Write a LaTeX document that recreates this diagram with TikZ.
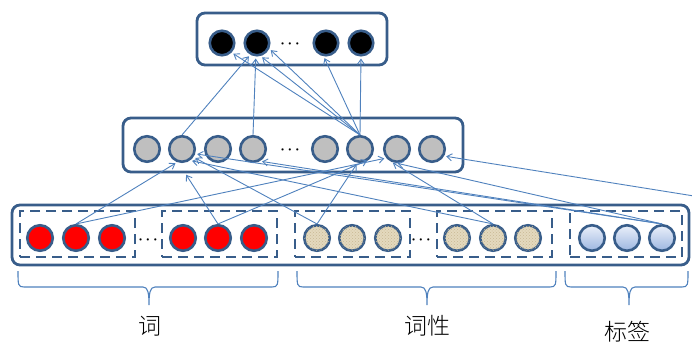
\documentclass[tikz,border=0pt]{standalone}
\usepackage{fontspec}
\newfontfamily\cjk{Noto Sans CJK SC Light}
\usetikzlibrary{arrows.meta,calc,patterns}
\definecolor{bd}{HTML}{385D8A}
\definecolor{ar}{HTML}{4F81BD}
\definecolor{gr}{HTML}{BFBFBF}
\definecolor{tanc}{HTML}{E4D9BE}
\definecolor{tanp}{HTML}{C9B994}
\definecolor{blt}{HTML}{EAF0FA}
\definecolor{blb}{HTML}{9DB6E0}
\newcommand{\mybrace}[3]{%
  \draw[brc] (#1,271) .. controls (#1,285) and (#1,287) .. ({#1+6},287)
    -- ({#2-6},287) .. controls ({#2-1},287) and (#2,293) .. (#2,305)
    .. controls (#2,293) and ({#2+1},287) .. ({#2+6},287)
    -- ({#3-6},287) .. controls (#3,287) and (#3,285) .. (#3,271);}
\begin{document}
\begin{tikzpicture}[x=1pt,y=-1pt,
  box/.style={draw=bd,line width=2.8pt,rounded corners=8pt},
  grp/.style={draw=bd,line width=2.8pt,dash pattern=on 10pt off 6pt},
  unit/.style={circle,draw=bd,line width=2.6pt,minimum size=25.5pt,inner sep=0pt},
  ounit/.style={unit,minimum size=24.5pt,fill=black},
  hunit/.style={unit,fill=gr},
  wunit/.style={unit,fill=red},
  punit/.style={unit,fill=tanc,postaction={pattern=crosshatch dots,pattern color=tanp}},
  lunit/.style={unit,top color=blt,bottom color=blb},
  dotsn/.style={inner sep=0pt,font=\fontsize{15}{15}\selectfont\boldmath},
  arr/.style={draw=ar,line width=0.9pt,-{Straight Barb[length=5pt,width=7pt]},shorten >=2pt},
  brc/.style={draw=ar,line width=1.1pt},
  lab/.style={font=\cjk\fontsize{23}{23}\selectfont,inner sep=0pt}
]
\useasboundingbox (0,0) rectangle (692,345);

% boxes
\node[box,minimum width=190pt,minimum height=52pt] (topbox) at (292,39) {};
\node[box,minimum width=340pt,minimum height=54pt] (midbox) at (293,145) {};
\node[box,minimum width=677pt,minimum height=60pt] (inbox) at (350.5,235) {};
\node[grp,minimum width=115pt,minimum height=46pt] (g1) at (77.5,234) {};
\node[grp,minimum width=115pt,minimum height=46pt] (g2) at (219.5,234) {};
\node[grp,minimum width=115pt,minimum height=46pt] (g3) at (352.5,234) {};
\node[grp,minimum width=115pt,minimum height=46pt] (g4) at (494.5,234) {};
\node[grp,minimum width=112pt,minimum height=46pt] (g5) at (626,234) {};

% output layer
\node[ounit] (o1) at (222,43) {};
\node[ounit] (o2) at (257,43) {};
\node[dotsn] (od) at (290,44) {$\cdots$};
\node[ounit] (o4) at (326,43) {};
\node[ounit] (o5) at (361,43) {};

% hidden layer
\node[hunit] (m1) at (147,149) {};
\node[hunit] (m2) at (182,149) {};
\node[hunit] (m3) at (218,149) {};
\node[hunit] (m4) at (253,149) {};
\node[dotsn] (md) at (290,150) {$\cdots$};
\node[hunit] (m6) at (325,149) {};
\node[hunit] (m7) at (360,149) {};
\node[hunit] (m8) at (397,149) {};
\node[hunit] (m9) at (432,149) {};

% input layer
\node[wunit] (r1) at (40,238) {};
\node[wunit] (r2) at (76,238) {};
\node[wunit] (r3) at (112,238) {};
\node[dotsn] (rd) at (148,240) {$\cdots$};
\node[wunit] (r4) at (183,238) {};
\node[wunit] (r5) at (218,238) {};
\node[wunit] (r6) at (254,238) {};
\node[punit] (t1) at (317,238) {};
\node[punit] (t2) at (352,238) {};
\node[punit] (t3) at (388,238) {};
\node[dotsn] (td) at (421,240) {$\cdots$};
\node[punit] (t4) at (457,238) {};
\node[punit] (t5) at (493,238) {};
\node[punit] (t6) at (528,238) {};
\node[lunit] (b1) at (592,238) {};
\node[lunit] (b2) at (627,238) {};
\node[lunit] (b3) at (662,238) {};
\coordinate (edge) at (694,196);

% hidden -> output
\draw[arr] (m2.north) -- (o2.-120);
\draw[arr] (m4.north) -- (o2.-95);
\draw[arr] (m7.north) -- (o1.-45);
\draw[arr] (m7.north) -- (o2.-75);
\draw[arr] (m7.north) -- (o2.-25);
\draw[arr] (m7.north) -- (o4.-100);
\draw[arr] (m7.north) -- (o5.-90);

% input -> hidden
\draw[arr] (r2.north) -- (m2.-110);
\draw[arr] (r2.north) -- (m8.-140);
\draw[arr] (r5.north) -- ($(m2.south)+(3,10)$);
\draw[arr] (r5.north) -- (m7.-50);
\draw[arr] (t1.north) -- (m2.-35);
\draw[arr] (t1.north) -- (m7.-100);
\draw[arr] (t5.north) -- (m2.-55);
\draw[arr] (t5.north) -- (m8.-115);
\draw[arr] (b3.north) -- (m8.-95);
\draw[arr] (b3.north) -- (m2.-20);
\draw[arr] (b3.north) -- (m4.-60);
\draw[arr] (edge) -- (m9.-30);

% braces and labels
\mybrace{18}{149}{278}
\mybrace{297}{427}{556}
\mybrace{565}{629}{688}
\node[lab] (l1) at (150,326) {词};
\node[lab] (l2) at (427,326) {词性};
\node[lab] (l3) at (627,332) {标签};
\end{tikzpicture}
\end{document}
